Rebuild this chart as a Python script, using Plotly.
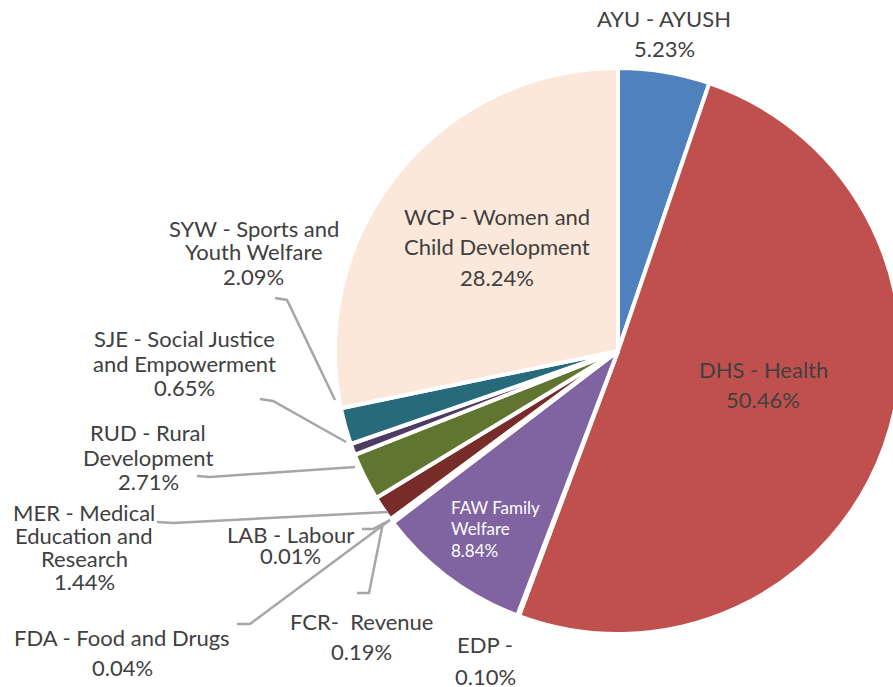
import plotly.graph_objects as go

# ---------------- data ----------------
codes = ["AYU", "DHS", "EDP", "FAW", "FCR", "FDA", "LAB", "MER", "RUD", "SJE", "SYW", "WCP"]
values = [5.23, 50.46, 0.10, 8.84, 0.19, 0.04, 0.01, 1.44, 2.71, 0.65, 2.09, 28.24]
label_lines = [
    ["AYU - AYUSH"],
    ["DHS - Health"],
    ["EDP -"],
    ["FAW Family", "Welfare"],
    ["FCR-\u00a0 Revenue"],
    ["FDA - Food and Drugs"],
    ["LAB - Labour"],
    ["MER - Medical", "Education and", "Research"],
    ["RUD - Rural", "Development"],
    ["SJE - Social Justice", "and Empowerment"],
    ["SYW - Sports and", "Youth Welfare"],
    ["WCP - Women and", "Child Development"],
]
colors = ["#4F81BD", "#C0504D", "#9BBB59", "#8064A2", "#4BACC6", "#F79646",
          "#2C4D75", "#772C2A", "#5F7530", "#4D3B62", "#276A7C", "#FCE8DA"]

# ---------------- layout helpers ----------------
# the figure is slightly wider than the 893px window so the pie is cut at the right edge
W, H = 901, 687
OFF = 0
def px(x): return (x - OFF) / W
def py(y): return 1 - (y - OFF) / H

# label placement: (x px, first line y px, line spacing px, xanchor, size, color)
place = {
    "AYU": (664, 20, 30, "center", 22, "#404040"),
    "DHS": (763, 370, 30, "center", 22, "#404040"),
    "EDP": (485, 645, 32, "center", 22, "#404040"),
    "FAW": (449, 508, 21.5, "left", 17, "#FFFFFF"),
    "FCR": (361, 622, 30, "center", 22, "#404040"),
    "FDA": (122, 638, 30, "center", 22, "#404040"),
    "LAB": (290, 535, 21, "center", 22, "#404040"),
    "MER": (84, 513, 23.3, "center", 22, "#404040"),
    "RUD": (148, 434, 24, "center", 22, "#404040"),
    "SJE": (184, 340, 24, "center", 22, "#404040"),
    "SYW": (254, 229, 24, "center", 22, "#404040"),
    "WCP": (497, 217, 30.5, "center", 22, "#404040"),
}
leaders = {
    "SYW": [(275, 298), (287, 300), (335, 400)],
    "SJE": [(260, 399), (273, 401), (346, 442)],
    "RUD": [(197, 476), (210, 477), (355, 467)],
    "MER": [(157, 522), (173, 523), (388, 512)],
    "LAB": [(362, 529), (373, 529), (390, 520)],
    "FDA": [(237, 624), (250, 624), (390, 520)],
    "FCR": [(357, 593), (369, 593), (383, 523)],
}

# pie centre / radius in window pixels
CX, CY, R = 618, 351, 283
fig = go.Figure(go.Pie(
    labels=codes,
    values=values,
    sort=False,
    direction="clockwise",
    rotation=0,
    textinfo="none",
    marker=dict(colors=colors, line=dict(color="white", width=4)),
    domain=dict(x=[px(CX - R), min(1.0, px(CX + R))],
                y=[py(CY + R), py(CY - R)]),
    showlegend=False,
    hoverinfo="label+percent",
))

annotations = []
for code, lines, v in zip(codes, label_lines, values):
    x, y0, sp, anchor, size, col = place[code]
    all_lines = lines + [f"{v:.2f}%"]
    for i, t in enumerate(all_lines):
        annotations.append(dict(
            x=px(x), y=py(y0 + i * sp - 1), xref="paper", yref="paper",
            text=t, showarrow=False, xanchor=anchor, yanchor="middle",
            font=dict(family="Lato", size=size, color=col),
        ))

shapes = []
for code, pts in leaders.items():
    path = "M " + " L ".join(f"{px(x):.5f},{py(y):.5f}" for x, y in pts)
    shapes.append(dict(type="path", xref="paper", yref="paper", path=path,
                       line=dict(color="#A6A6A6", width=2.5)))

fig.update_layout(
    width=W, height=H,
    margin=dict(l=0, r=0, t=0, b=0),
    paper_bgcolor="white", plot_bgcolor="white",
    annotations=annotations, shapes=shapes,
    font=dict(family="Lato"),
)

fig.write_html(
    "out.html",
    config={"displayModeBar": False},
    post_script="document.body.style.margin='0';"
                "document.documentElement.style.overflow='hidden';"
                "document.body.style.overflow='hidden';",
)
